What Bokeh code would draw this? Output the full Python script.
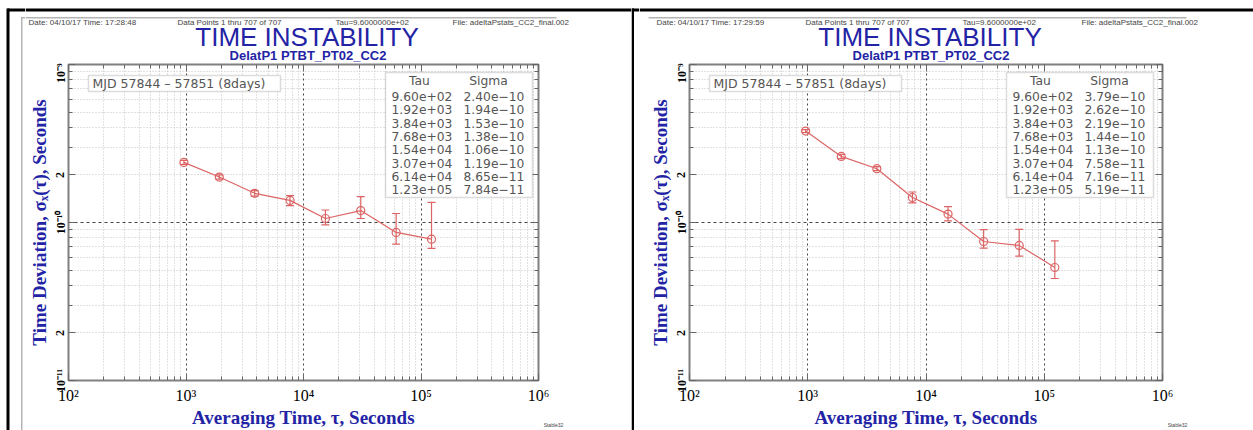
from bokeh.plotting import figure
from bokeh.layouts import row, column
from bokeh.models import (ColumnDataSource, Range1d, FixedTicker, LogAxis, Grid,
                          Label, LabelSet, BoxAnnotation, Whisker, TeeHead,
                          CustomJSTickFormatter)
from bokeh.core.properties import value
from bokeh.embed import file_html
from bokeh.resources import INLINE

# ---------------- data ----------------
tau = [960, 1920, 3840, 7680, 15360, 30720, 61440, 122880]

sigma_left = [2.40e-10, 1.94e-10, 1.53e-10, 1.38e-10, 1.06e-10, 1.19e-10, 8.65e-11, 7.84e-11]
lower_left = [2.33e-10, 1.88e-10, 1.47e-10, 1.28e-10, 9.67e-11, 1.06e-10, 7.30e-11, 6.85e-11]
upper_left = [2.47e-10, 2.00e-10, 1.59e-10, 1.48e-10, 1.20e-10, 1.46e-10, 1.14e-10, 1.34e-10]

sigma_right = [3.79e-10, 2.62e-10, 2.19e-10, 1.44e-10, 1.13e-10, 7.58e-11, 7.16e-11, 5.19e-11]
lower_right = [3.71e-10, 2.54e-10, 2.13e-10, 1.33e-10, 1.025e-10, 6.88e-11, 6.13e-11, 4.42e-11]
upper_right = [3.87e-10, 2.70e-10, 2.26e-10, 1.56e-10, 1.26e-10, 9.02e-11, 9.04e-11, 7.65e-11]

x_ticks = [1e2, 1e3, 1e4, 1e5, 1e6]
x_tick_labels = ["10²", "10³", "10⁴", "10⁵", "10⁶"]
y_ticks = [1e-11, 2e-11, 1e-10, 2e-10, 1e-9]
y_tick_labels = ["10⁻¹¹", "2", "10⁻¹⁰", "2", "10⁻⁹"]
x_major_grid = [1e3, 1e4, 1e5]
y_major_grid = [1e-10]

header_left = ["Date: 04/10/17  Time: 17:28:48", "Data Points 1 thru 707 of 707",
               "Tau=9.6000000e+02", "File: adeltaPstats_CC2_final.002"]
header_right = ["Date: 04/10/17  Time: 17:29:59", "Data Points 1 thru 707 of 707",
                "Tau=9.6000000e+02", "File: adeltaPstats_CC2_final.002"]
title_text = "TIME INSTABILITY"
subtitle_text = "DelatP1 PTBT_PT02_CC2"
mjd_text = "MJD 57844 – 57851 (8days)"
table_head = ["Tau", "Sigma"]
x_label = "Averaging Time, τ, Seconds"
y_label = "Time Deviation, σₓ(τ), Seconds"
footer_text = "Stable32"

x_minor = [m * 10.0 ** e for e in range(2, 6) for m in range(2, 10)]
y_minor = [m * 10.0 ** e for e in (-11, -10) for m in range(2, 10)]
y_minor_ticks = [v for v in y_minor if v not in y_ticks]

H = 430          # page height
HH = 63          # header strip height
FT, FB = 64, 380  # plot frame top / bottom (page y)
BLUE = "#2323a5"
RED = "#dc6464"
GRAYTXT = "#555555"
GRAYLINE = "#b4b4b4"

JS = """
for (let i = 0; i < t.length; i++) {
  if (Math.abs(Math.log10(tick) - Math.log10(t[i])) < 1e-6) { return l[i]; }
}
return "";
"""
JS_EMPTY = "return ' ';"


def no_align(f):
    try:
        f.frame_align = False
    except Exception:
        pass
    return f


def blank(x0, x1, y0, y1):
    """A figure whose frame fills it, in page pixel coordinates (y downward)."""
    f = figure(width=x1 - x0, height=y1 - y0,
               x_range=Range1d(x0, x1), y_range=Range1d(y1, y0),
               output_backend="svg", toolbar_location=None,
               x_axis_location=None, y_axis_location=None,
               min_border=0, outline_line_color=None,
               background_fill_color="white", border_fill_color="white")
    f.grid.visible = False
    f.title.visible = False
    return no_align(f)


def rects(f, items, color):
    if items:
        f.quad(left=[a[0] for a in items], right=[a[2] for a in items],
               top=[a[1] for a in items], bottom=[a[3] for a in items],
               fill_color=color, line_color=None)


def make_strip(x0, x1, black, gray):
    f = blank(x0, x1, 0, H)
    rects(f, black, "black")
    rects(f, gray, GRAYLINE)
    return f


def make_header(x0, x1, header, header_xs, title_x, black, gray):
    f = blank(x0, x1, 0, HH)
    rects(f, black, "black")
    rects(f, gray, GRAYLINE)
    f.text(x=header_xs, y=[22] * len(header), text=header,
           text_font=value("Liberation Sans"), text_font_size=value("8px"),
           text_color="#444444", text_align="left", text_baseline="middle")
    f.text(x=[title_x], y=[36], text=[title_text],
           text_font=value("Liberation Sans"), text_font_size=value("26px"),
           text_color=BLUE, text_align="center", text_baseline="middle")
    f.text(x=[title_x + 1], y=[55], text=[subtitle_text],
           text_font=value("Liberation Sans"), text_font_size=value("13px"),
           text_font_style="bold",
           text_color=BLUE, text_align="center", text_baseline="middle")
    return f


def make_plot(x0, x1, fl, fr, sigma, lower, upper, footer_x):
    width = x1 - x0
    height = H - HH
    p = figure(width=width, height=height, x_axis_type="log", y_axis_type="log",
               x_range=Range1d(1e2, 1e6), y_range=Range1d(1e-11, 1e-9),
               output_backend="svg", toolbar_location=None,
               min_border_left=fl - x0, min_border_right=x1 - fr,
               min_border_top=FT - HH, min_border_bottom=H - FB,
               background_fill_color="white", border_fill_color="white",
               outline_line_color="#808080", outline_line_width=2)
    p.title.visible = False
    no_align(p)

    def sx(X):
        return X - fl

    def sy(Y):
        return FB - Y

    # axes
    xa = p.xaxis[0]
    xa.ticker = FixedTicker(ticks=x_ticks, minor_ticks=x_minor)
    xa.formatter = CustomJSTickFormatter(args=dict(t=x_ticks, l=x_tick_labels), code=JS)
    xa.major_label_text_font = "Liberation Serif"
    xa.major_label_text_font_size = "16px"
    xa.major_label_text_color = "black"
    xa.major_label_standoff = 6
    xa.axis_label = x_label
    xa.axis_label_text_font = "Liberation Serif"
    xa.axis_label_text_font_style = "bold"
    xa.axis_label_text_font_size = "19px"
    xa.axis_label_text_color = BLUE
    xa.axis_label_standoff = 0

    ya = p.yaxis[0]
    ya.ticker = FixedTicker(ticks=y_ticks, minor_ticks=y_minor_ticks)
    ya.formatter = CustomJSTickFormatter(args=dict(t=y_ticks, l=y_tick_labels), code=JS)
    ya.major_label_text_font = "Liberation Serif"
    ya.major_label_text_font_style = "bold"
    ya.major_label_text_font_size = "12px"
    ya.major_label_text_color = "black"
    ya.major_label_orientation = "vertical"
    ya.major_label_standoff = 1
    ya.axis_label = y_label
    ya.axis_label_text_font = "Liberation Serif"
    ya.axis_label_text_font_style = "bold"
    ya.axis_label_text_font_size = "19px"
    ya.axis_label_text_color = BLUE
    ya.axis_label_standoff = 1

    top = LogAxis(ticker=FixedTicker(ticks=x_ticks, minor_ticks=x_minor),
                  formatter=CustomJSTickFormatter(code=JS_EMPTY),
                  major_label_text_font_size="1px", major_label_text_color=None,
                  major_label_standoff=0)
    rgt = LogAxis(ticker=FixedTicker(ticks=y_ticks, minor_ticks=y_minor_ticks),
                  formatter=CustomJSTickFormatter(code=JS_EMPTY),
                  major_label_text_font_size="1px", major_label_text_color=None,
                  major_label_standoff=0)
    p.add_layout(top, "above")
    p.add_layout(rgt, "right")
    for ax in (xa, ya, top, rgt):
        ax.axis_line_color = None
        ax.major_tick_in = 7
        ax.major_tick_out = 0
        ax.minor_tick_in = 4
        ax.minor_tick_out = 0
        ax.major_tick_line_color = "#666666"
        ax.minor_tick_line_color = "#666666"

    # grids
    g = p.xgrid[0]
    g.ticker = FixedTicker(ticks=x_minor)
    g.grid_line_color = "#c4c4c4"
    g.grid_line_dash = "1 2"
    g = p.ygrid[0]
    g.ticker = FixedTicker(ticks=y_minor)
    g.grid_line_color = "#c4c4c4"
    g.grid_line_dash = "1 2"
    p.add_layout(Grid(dimension=0, ticker=FixedTicker(ticks=x_major_grid),
                      grid_line_color="#444444", grid_line_dash="2 3"))
    p.add_layout(Grid(dimension=1, ticker=FixedTicker(ticks=y_major_grid),
                      grid_line_color="#444444", grid_line_dash="3 3"))

    # data
    src = ColumnDataSource(dict(tau=tau, sigma=sigma, lower=lower, upper=upper))
    p.line("tau", "sigma", source=src, line_color=RED, line_width=1.2)
    p.scatter("tau", "sigma", source=src, marker="circle", size=8,
              fill_color=None, line_color=RED, line_width=1.2)
    p.add_layout(Whisker(source=src, base="tau", lower="lower", upper="upper",
                         line_color=RED, line_width=1.2,
                         upper_head=TeeHead(size=8, line_color=RED, line_width=1.2),
                         lower_head=TeeHead(size=8, line_color=RED, line_width=1.2)))

    # in-frame boxes (MJD, table)
    def box(X1, Y1, X2, Y2, fill, line, lw=1.0):
        p.add_layout(BoxAnnotation(left=sx(X1), right=sx(X2), top=sy(Y1), bottom=sy(Y2),
                                   left_units="screen", right_units="screen",
                                   top_units="screen", bottom_units="screen",
                                   fill_color=fill, fill_alpha=1.0,
                                   line_color=line, line_width=lw, level="overlay"))

    box(fl + 20, 75, fl + 212, 91, "white", "#8a8a8a", 1.5)
    p.add_layout(Label(x=sx(fl + 24), y=sy(83), x_units="screen", y_units="screen",
                       text=mjd_text, text_font="DejaVu Sans", text_font_size="12.5px",
                       text_color=GRAYTXT, text_align="left", text_baseline="middle",
                       level="overlay"))

    box(fl + 317, 72, fl + 464, 197, "white", "#8a8a8a", 1.5)
    tau_txt = [f"{t:.2e}" for t in tau]
    sig_txt = [f"{s:.2e}".replace("-", "−") for s in sigma]
    n = len(tau)
    tsrc = ColumnDataSource(dict(
        x=[sx(fl + 323)] * n + [sx(fl + 395)] * n,
        y=[sy(96 + 13.3 * i) for i in range(n)] * 2,
        text=tau_txt + sig_txt))
    p.add_layout(LabelSet(source=tsrc, x="x", y="y", text="text",
                          x_units="screen", y_units="screen", level="overlay",
                          text_font=value("DejaVu Sans"), text_font_size=value("12.3px"),
                          text_color=GRAYTXT, text_align="left", text_baseline="middle"))
    for txt, hx in zip(table_head, [fl + 351, fl + 420]):
        p.add_layout(Label(x=sx(hx), y=sy(80), x_units="screen", y_units="screen",
                           text=txt, text_font="DejaVu Sans", text_font_size="12.3px",
                           text_color=GRAYTXT, text_align="center", text_baseline="middle",
                           level="overlay"))

    # small footer outside the frame (side-panel label, canvas pixels)
    p.add_layout(Label(x=footer_x - x0, y=424 - HH, x_units="canvas", y_units="canvas",
                       text=footer_text, text_font="Liberation Sans", text_font_size="5px",
                       text_color="#444444", text_align="center", text_baseline="middle"),
                 "right")
    return p


# ---------------- left panel (page x 0..631) ----------------
L_S = 25
strip_l = make_strip(0, L_S,
                     black=[(6, 8, 9, 430), (7, 8, L_S, 11)],
                     gray=[(20.5, 16.5, 22, 430), (21, 16.5, L_S, 18)])
head_l = make_header(L_S, 631, header_left, [28, 177, 335, 452], 306.5,
                     black=[(L_S, 8, 631, 11)], gray=[(L_S, 16.5, 556, 18)])
plot_l = make_plot(L_S, 631, 67, 538, sigma_left, lower_left, upper_left, 553)

# ---------------- right panel (page x 631..1253) ----------------
R_S = 639
strip_r = make_strip(631, R_S,
                     black=[(631, 8, 633.5, 430), (631, 8, R_S, 11)], gray=[])
head_r = make_header(R_S, 1253, header_right, [656, 805, 962, 1081], 929.5,
                     black=[(R_S, 8, 1253, 11)], gray=[(648, 16.5, 1186, 18)])
plot_r = make_plot(R_S, 1253, 689, 1162, sigma_right, lower_right, upper_right, 1177)

layout = row(strip_l, column(head_l, plot_l), strip_r, column(head_r, plot_r))
open("out.html", "w").write(file_html(layout, INLINE))
